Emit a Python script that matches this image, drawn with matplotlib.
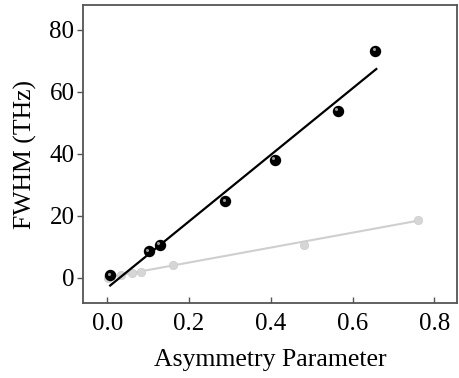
import matplotlib
matplotlib.use("Agg")
import matplotlib.pyplot as plt
from matplotlib.transforms import offset_copy

# black series
asym_black = [0.007, 0.102, 0.128, 0.289, 0.410, 0.564, 0.656]
fwhm_black = [0.8, 8.5, 10.7, 24.7, 38.0, 54.0, 73.2]
# fitted line ends
fit_black_x = [0.007, 0.658]
fit_black_y = [-2.5, 67.4]

# light grey series
asym_grey = [0.002, 0.034, 0.061, 0.082, 0.161, 0.482, 0.759]
fwhm_grey = [0.0, 0.9, 1.4, 1.8, 4.0, 10.7, 18.5]
fit_grey_x = [0.0, 0.759]
fit_grey_y = [0.1, 18.4]

xticks = [0.0, 0.2, 0.4, 0.6, 0.8]
yticks = [0, 20, 40, 60, 80]

plt.rcParams['font.family'] = ['Liberation Serif', 'DejaVu Serif']
plt.rcParams['font.size'] = 18

fig = plt.figure(figsize=(4.6, 3.78), dpi=100)
ax = fig.add_axes([0.180, 0.198, 0.814, 0.789])

ax.plot(fit_grey_x, fit_grey_y, color='#cfcfcf', lw=1.5, zorder=2)
ax.plot(asym_grey, fwhm_grey, 'o', ms=6, color='#d6d6d6', mec='#cccccc', mew=0.5, zorder=3)

ax.plot(fit_black_x, fit_black_y, color='black', lw=1.6, zorder=4)
ax.plot(asym_black, fwhm_black, 'o', ms=7.2, color='black', mec='black', zorder=5)
# little highlight to mimic the shaded spheres
hl = offset_copy(ax.transData, fig=fig, x=-1.2, y=1.2, units='points')
ax.plot(asym_black, fwhm_black, 'o', ms=2.2, color='#9a9a9a', mew=0, transform=hl, zorder=6)

ax.set_xlim(-0.06, 0.856)
ax.set_ylim(-8.2, 88.1)
ax.set_xticks(xticks)
ax.set_yticks(yticks)
ax.set_xticklabels(['0.0', '0.2', '0.4', '0.6', '0.8'])

for s in ax.spines.values():
    s.set_color('#555555')
    s.set_linewidth(1.3)
ax.tick_params(axis='x', direction='in', length=4, width=1, color='#555555', pad=7, labelsize=18)
ax.tick_params(axis='y', direction='out', length=4, width=1, color='#555555', pad=2, labelsize=18)

ax.set_xlabel('Asymmetry Parameter', fontsize=18.5, labelpad=10)
ax.set_ylabel('FWHM (THz)', fontsize=18.5, labelpad=9)

fig.savefig('out.png', dpi=100)
